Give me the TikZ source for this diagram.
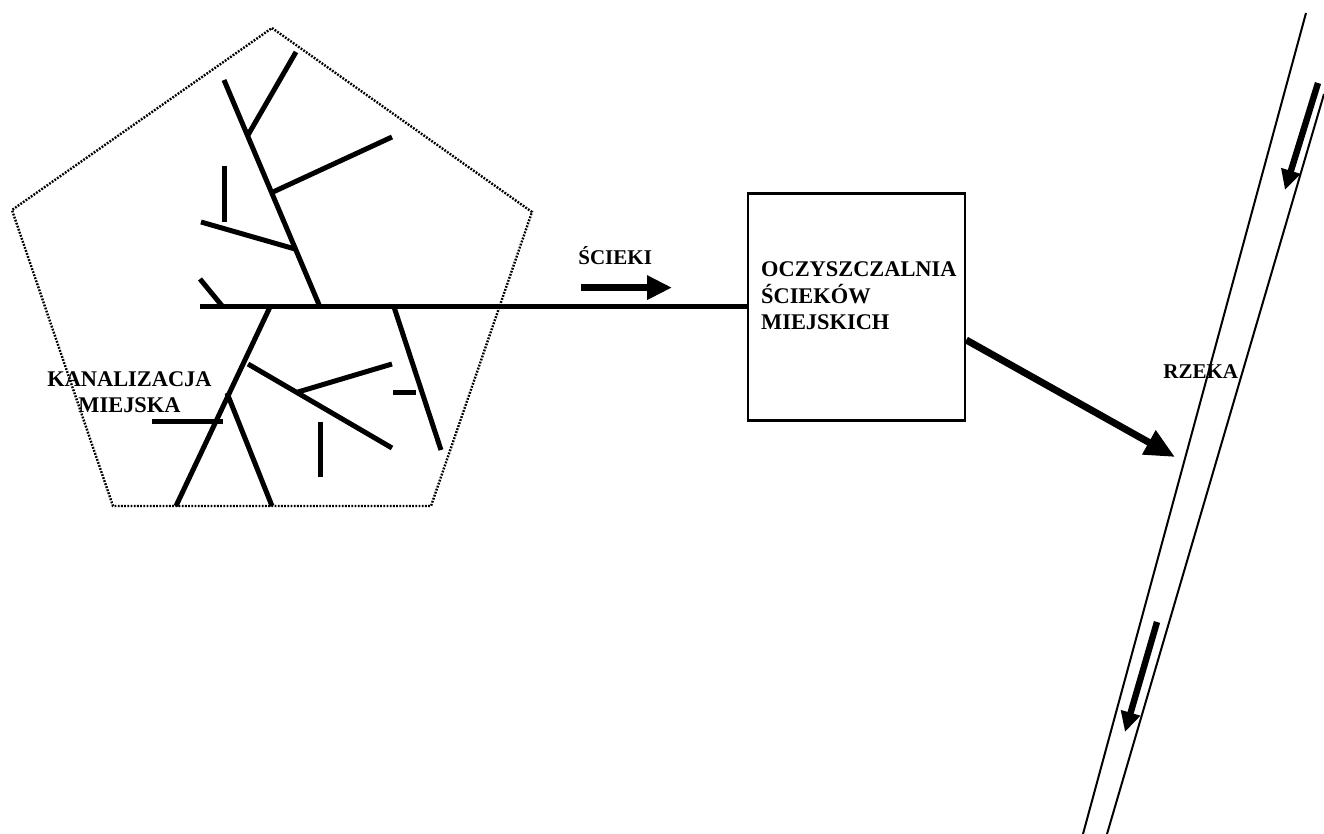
\documentclass[tikz,border=0pt]{standalone}
\usepackage{fontspec}
\setmainfont{Liberation Serif}
\usetikzlibrary{arrows.meta,positioning}

\begin{document}
\begin{tikzpicture}[x=0.5pt,y=-0.5pt,
  pipe/.style={line width=2.5pt},
  bank/.style={line width=1pt},
  lbl/.style={font=\fontsize{10.5}{12.5}\selectfont\bfseries,inner sep=0pt},
  biglbl/.style={font=\fontsize{11.2}{13.3}\selectfont\bfseries,inner sep=0pt},
  flow/.style={line width=3.5pt,-{Triangle[length=15pt,width=13pt]}},
  current/.style={line width=3.2pt,-{Triangle[length=10pt,width=9.5pt]}}]
\useasboundingbox (0,0) rectangle (1324,834);
% miasto
\draw[line width=1.2pt,dash pattern=on 0.9pt off 0.7pt]
  (272,28) -- (532,212) -- (431,506) -- (113,506) -- (12,210) -- cycle;
% siec kanalizacyjna
\draw[pipe] (224,80) -- (320,307);
\draw[pipe] (296,52) -- (248,135);
\draw[pipe] (392,137) -- (273,192);
\draw[pipe] (224,166) -- (224,222);
\draw[pipe] (201,222) -- (295,249);
\draw[pipe] (200,279) -- (223,307);
\draw[pipe] (270,307) -- (176,506);
\draw[pipe] (227,393) -- (272,506);
\draw[pipe] (152,422) -- (223,422);
\draw[pipe] (248,364) -- (392,448);
\draw[pipe] (298,392) -- (392,364);
\draw[pipe] (393,393) -- (416,393);
\draw[pipe] (320,422) -- (320,477);
\draw[pipe] (394,307) -- (441,450);
\node[biglbl,align=center,anchor=north] (city) at (129.5,371) {KANALIZACJA\\MIEJSKA};
% oczyszczalnia
\node[draw,line width=1.25pt,minimum width=108.5pt,minimum height=113.5pt] (plant) at (856.5,307) {};
\node[biglbl,align=left,below right=34.5pt and 7pt of plant.north west] (plantlbl)
  {OCZYSZCZALNIA\\ŚCIEKÓW\\MIEJSKICH};
\coordinate (outfall) at (200,307);
\draw[pipe] (outfall) -- (plant.west);
\node[lbl,anchor=base west] (scieki) at (578,265) {ŚCIEKI};
\draw[line width=3.5pt,-{Triangle[length=12.5pt,width=11.5pt]}]
  ([xshift=1.5pt,yshift=-11pt]scieki.south west) -- ++(91,0);
% rzeka
\draw[bank] (1306,13) -- (1083,834);
\draw[bank] (1324,94) -- (1107,834);
\node[lbl,anchor=base west] (river) at (1163,379) {RZEKA};
\coordinate (inlet) at (1175,457);
\draw[flow] ([yshift=-16.5pt]plant.east) -- (inlet);
\draw[current] (1318,83) -- (1285,190);
\draw[current] (1157,622) -- (1125,732);
\end{tikzpicture}
\end{document}
